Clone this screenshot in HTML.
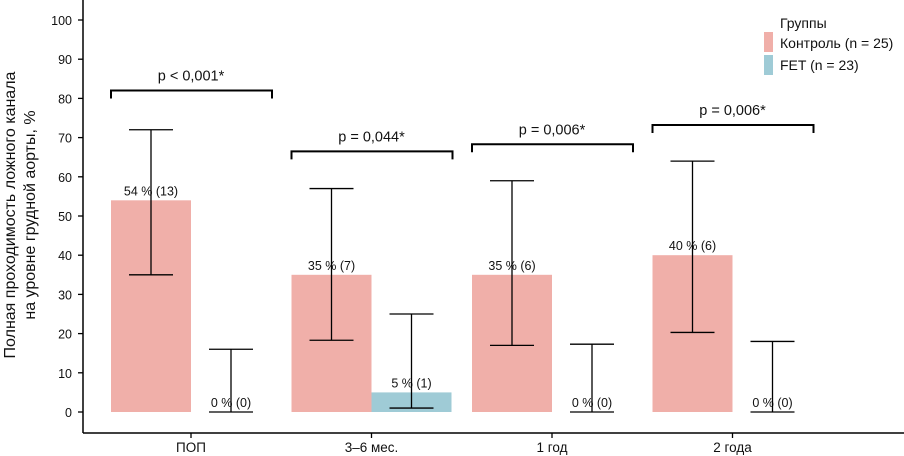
<!DOCTYPE html>
<html><head><meta charset="utf-8"><style>
body{margin:0;background:#fff}
svg{display:block;font-family:"Liberation Sans","DejaVu Sans",sans-serif}
</style></head><body>
<svg id="c" width="904" height="456"></svg>
<script>
const categories=["ПОП","3–6 мес.","1 год","2 года"];
const controlValues=[54,35,35,40];
const controlLabels=["54 % (13)","35 % (7)","35 % (6)","40 % (6)"];
const controlLow=[35,18.3,17,20.3];
const controlHigh=[72,57,59,64];
const fetValues=[0,5,0,0];
const fetLabels=["0 % (0)","5 % (1)","0 % (0)","0 % (0)"];
const fetLow=[0,1,0,0];
const fetHigh=[16,25,17.3,18];
const pLabels=["p < 0,001*","p = 0,044*","p = 0,006*","p = 0,006*"];
const pLevels=[82,66.5,68.3,73.2];
const yTicks=[0,10,20,30,40,50,60,70,80,90,100];
const NS="http://www.w3.org/2000/svg";
const svg=document.getElementById('c');
const y=v=>412-v*3.92;
const cx=i=>191+i*180.5;
const bw=80;
function mk(t,a,p){const e=document.createElementNS(NS,t);for(const k in a)e.setAttribute(k,a[k]);(p||svg).appendChild(e);return e;}
function ln(x1,y1,x2,y2,w){return mk('line',{x1,y1,x2,y2,stroke:'#000','stroke-width':w||1.3});}
function tx(x,yy,s,size,anchor){const t=mk('text',{x,y:yy,'font-size':size||12,'text-anchor':anchor||'middle',fill:'#111'});t.textContent=s;return t;}
let e;
e=ln(83,0,83,433,1.5);


e=ln(83,433,904,433,1.5);


yTicks.forEach(v=>{ln(78,y(v),83,y(v));
e=tx(72,y(v)+5,String(v),12.5,'end');

});
e=tx(0,0,'Полная проходимость ложного канала',16);
e.setAttribute('transform','translate(15,215) rotate(-90)');


e=tx(0,0,'на уровне грудной аорты, %',16);
e.setAttribute('transform','translate(35,215) rotate(-90)');


categories.forEach((c,i)=>{
 const x=cx(i);
 ln(x,433,x,438);
 e=tx(x,452,c,13.5);
 
 
 e=mk('rect',{x:x-bw,y:y(controlValues[i]),width:bw,height:y(0)-y(controlValues[i]),fill:'#f0afa9'});
 
 
 e=mk('rect',{x:x,y:y(fetValues[i]),width:bw,height:y(0)-y(fetValues[i]),fill:'#9fcbd6'});
 
 
 const c1=x-bw/2,c2=x+bw/2;
 e=tx(c1,y(controlValues[i])-5,controlLabels[i],12.5);
 
 
 e=tx(c2,y(fetValues[i])-5,fetLabels[i],12.5);
 
 
 [[c1,controlLow[i],controlHigh[i]],[c2,fetLow[i],fetHigh[i]]].forEach(([xx,lo,hi])=>{
  ln(xx,y(lo),xx,y(hi));ln(xx-22,y(lo),xx+22,y(lo));ln(xx-22,y(hi),xx+22,y(hi));});
 const by=y(pLevels[i]);
 e=mk('path',{d:`M${x-80},${by+8}V${by}H${x+81}V${by+8}`,fill:'none',stroke:'#000','stroke-width':2});
 
 
 e=tx(x,by-10,pLabels[i],14.5);
 
 
});
e=tx(780,28,'Группы',14,'start');


e=mk('rect',{x:764,y:32,width:9,height:20,fill:'#f0afa9'});


e=tx(780,48,'Контроль (n = 25)',14,'start');


e=mk('rect',{x:764,y:55,width:9,height:20,fill:'#9fcbd6'});


e=tx(780,70,'FET (n = 23)',14,'start');


</script>
</body></html>
